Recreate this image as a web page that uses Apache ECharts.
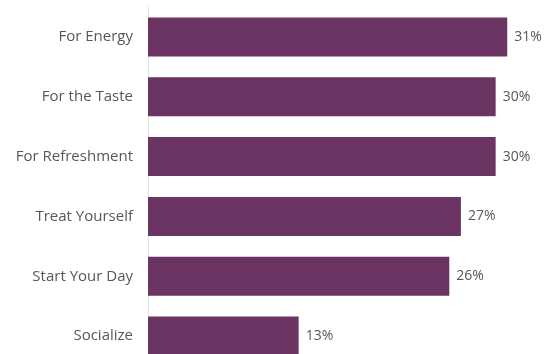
<!DOCTYPE html>
<html><head><meta charset="utf-8">
<script src="https://cdn.jsdelivr.net/npm/echarts@6/dist/echarts.min.js"></script>
<style>html,body{margin:0;padding:0;background:#fff;overflow:hidden}#c{width:545px;height:366px}</style>
</head><body><div id="c"></div>
<script>
const categories = ["For Energy","For the Taste","For Refreshment","Treat Yourself","Start Your Day","Socialize"];
const values = [31,30,30,27,26,13];
const chart = echarts.init(document.getElementById('c'), null, {renderer:'canvas'});
chart.setOption({
  animation:false,
  grid:{left:148, right:3, top:7, bottom:0, containLabel:false},
  xAxis:{type:'value', min:0, max:34, show:false},
  yAxis:{type:'category', data:categories, inverse:true,
    axisLine:{show:true, lineStyle:{color:'#e0e0e0', width:1}},
    axisTick:{show:false},
    axisLabel:{margin:15, color:'#5c545a', fontFamily:'Open Sans', fontSize:15}},
  series:[{type:'bar', data:values, barWidth:39,
    itemStyle:{color:'#6b3462'},
    label:{show:true, position:'right', distance:7, formatter:'{c}%', color:'#5c545a', fontFamily:'Open Sans', fontSize:14}}]
});
</script></body></html>
